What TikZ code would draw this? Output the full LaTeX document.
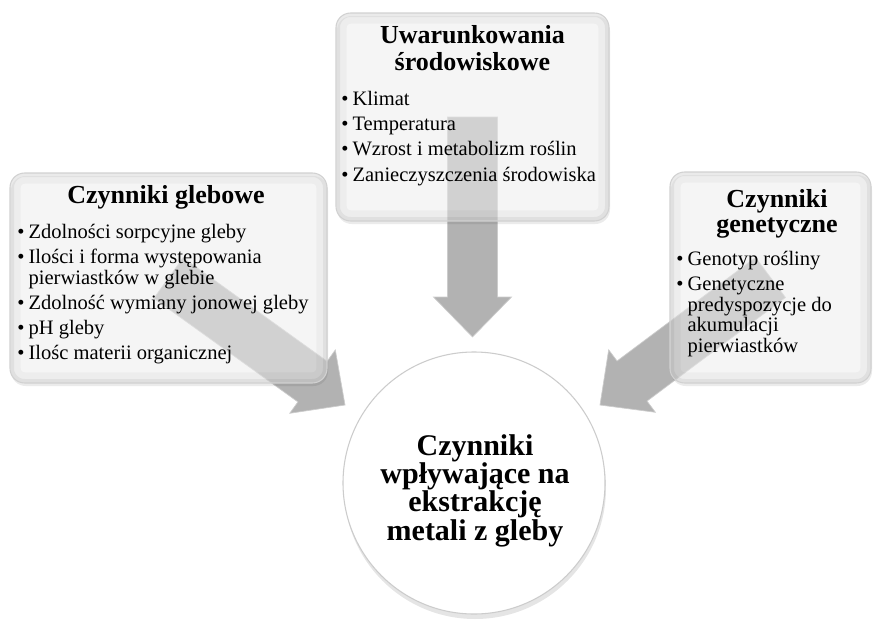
\documentclass[tikz,border=0pt]{standalone}
\usepackage{fontspec}
\setmainfont{Liberation Serif}
\usetikzlibrary{calc}
\pgfdeclareradialshading{rimshade}{\pgfpoint{0bp}{0bp}}{color(0bp)=(white); color(41bp)=(white); color(47bp)=(black!5); color(50bp)=(black!14)}
\definecolor{arrowgray}{RGB}{178,178,178}
\newcommand\bitem{\makebox[8.5pt][l]{\textbullet}}
\newcommand\bcont{\makebox[8.5pt]{}}
\newcommand\blkarrow[2]{%
  \coordinate (#1hb) at ($(#2)!30pt!(#1.center)$);
  \path[arrowstyle] ($(#1.center)!18.75pt!90:(#2)$)
    -- ($(#1hb)!18.75pt!90:(#2)$)
    -- ($(#1hb)!29.25pt!90:(#2)$)
    -- (#2)
    -- ($(#1hb)!29.25pt!-90:(#2)$)
    -- ($(#1hb)!18.75pt!-90:(#2)$)
    -- ($(#1.center)!18.75pt!-90:(#2)$) -- cycle;
}
\newcommand\softbox[1]{%
  \fill[black, opacity=0.08, rounded corners=11pt] ($(#1.north west)+(1,3)$) rectangle ($(#1.south east)+(1,3)$);
  \fill[white, fill opacity=0.5, rounded corners=11pt] (#1.north west) rectangle (#1.south east);
  \begin{scope}
    \clip[rounded corners=11pt] (#1.north west) rectangle (#1.south east);
    \draw[black, draw opacity=0.03, line width=16pt, rounded corners=11pt] (#1.north west) rectangle (#1.south east);
    \draw[black, draw opacity=0.05, line width=6pt, rounded corners=11pt] (#1.north west) rectangle (#1.south east);
  \end{scope}
  \draw[black!18, line width=0.8pt, rounded corners=11pt] (#1.north west) rectangle (#1.south east);
}
\tikzset{
  boxnode/.style={rectangle, inner sep=0pt, outer sep=0pt},
  headtext/.style={anchor=base, inner sep=0pt, font=\fontsize{19.5pt}{20pt}\selectfont\bfseries},
  listtext/.style={anchor=north west, inner sep=0pt, align=left, font=\fontsize{15.4pt}{15.4pt}\selectfont},
  circtext/.style={anchor=base, inner sep=0pt, font=\fontsize{22.5pt}{21pt}\selectfont\bfseries},
  arrowstyle/.style={fill=arrowgray, draw=black!20, line width=0.5pt, line join=miter},
}
\begin{document}
\begin{tikzpicture}[x=0.75pt,y=-0.75pt]
\useasboundingbox (0,0) rectangle (879,628);
\fill[white] (0,0) rectangle (879,628);

% invisible frames
\node[boxnode, minimum width=237.75pt, minimum height=157.5pt] (lbox) at (168.5,278) {};
\node[boxnode, minimum width=204.75pt, minimum height=156pt] (tbox) at (472.5,117) {};
\node[boxnode, minimum width=150.75pt, minimum height=158.25pt] (rbox) at (770.5,277.5) {};
\node[circle, minimum size=196.5pt, inner sep=0pt] (circ) at (474,483) {};

\coordinate (ltip) at (345,405);
\coordinate (ttip) at (472.5,337);
\coordinate (rtip) at (600,405);

% central circle
\fill[black, opacity=0.10] ($(circ.center)+(1,5)$) circle[radius=98.25pt];
\shade[shading=rimshade] (circ.center) circle[radius=98.25pt];
\draw[black!20, line width=0.8pt] (circ.center) circle[radius=98.25pt];

% block arrows
\blkarrow{lbox}{ltip}
\blkarrow{tbox}{ttip}
\blkarrow{rbox}{rtip}

% boxes
\softbox{lbox}
\softbox{tbox}
\softbox{rbox}

% headings
\node[headtext] (lh) at (166,203) {Czynniki glebowe};
\node[headtext] (th1) at (472.5,43) {Uwarunkowania};
\node[headtext] (th2) at (472.5,70) {środowiskowe};
\node[headtext] (rh1) at (777,207) {Czynniki};
\node[headtext] (rh2) at (777,232) {genetyczne};

% lists
\node[listtext] (ll) at (17,224) {%
\bitem Zdolności sorpcyjne gleby\\[3.5pt]
\bitem Ilości i forma występowania\\
\bcont pierwiastków w glebie\\[3.5pt]
\bitem Zdolność wymiany jonowej gleby\\[3.5pt]
\bitem pH gleby\\[3.5pt]
\bitem Ilośc materii organicznej};

\node[listtext] (tl) at (341,91) {%
\bitem Klimat\\[3.5pt]
\bitem Temperatura\\[3.5pt]
\bitem Wzrost i metabolizm roślin\\[3.5pt]
\bitem Zanieczyszczenia środowiska};

\node[listtext] (rl) at (676,251) {%
\bitem Genotyp rośliny\\[3.5pt]
\bitem Genetyczne\\
\bcont predyspozycje do\\
\bcont akumulacji\\
\bcont pierwiastków};

% circle text
\node[circtext] (c1) at (475,455) {Czynniki};
\node[circtext] (c2) at (475,483.5) {wpływające na};
\node[circtext] (c3) at (475,511.5) {ekstrakcję};
\node[circtext] (c4) at (475,540) {metali z gleby};
\end{tikzpicture}
\end{document}
